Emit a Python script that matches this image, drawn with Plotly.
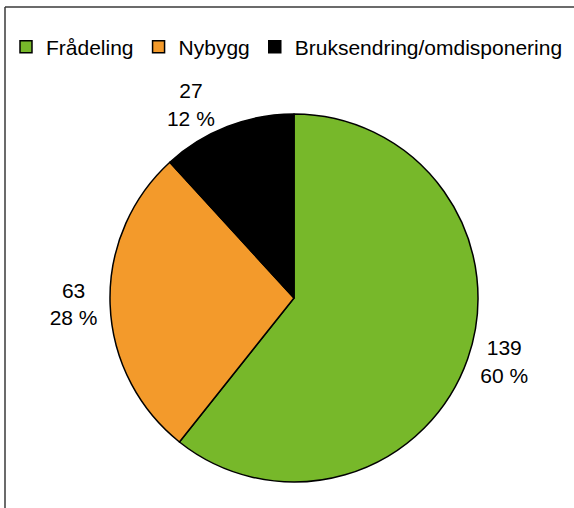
import plotly.graph_objects as go

categories = ["Frådeling", "Nybygg", "Bruksendring/omdisponering"]
values = [139, 63, 27]
pct_labels = [60, 28, 12]
colors = ["#77B82A", "#F39A2B", "#000000"]

W, H = 574, 508
cx, cy, r = 294, 298, 184
FONT = "Liberation Sans, Arial, sans-serif"

fig = go.Figure(go.Pie(
    labels=categories,
    values=values,
    customdata=pct_labels,
    sort=False,
    direction="clockwise",
    rotation=0,
    marker=dict(colors=colors, line=dict(color="#000000", width=1.5)),
    texttemplate="%{value}<br>%{customdata} %",
    textposition="outside",
    textfont=dict(family=FONT, size=21, color="#000000"),
    hoverinfo="label+value+percent",
    domain=dict(x=[(cx - r) / W, (cx + r) / W], y=[(H - cy - r) / H, (H - cy + r) / H]),
    automargin=False,
))

fig.update_layout(
    width=W, height=H,
    margin=dict(l=0, r=0, t=0, b=0),
    paper_bgcolor="white",
    font=dict(family=FONT, size=21, color="#000000"),
    showlegend=True,
    legend=dict(
        orientation="h",
        x=6 / W, xanchor="left",
        y=1 - 47 / H, yanchor="middle",
        font=dict(family=FONT, size=21),
        tracegroupgap=0,
        borderwidth=0,
        bgcolor="rgba(0,0,0,0)",
    ),
    shapes=[
        dict(type="line", xref="paper", yref="paper", x0=5 / W, x1=1.0, y0=1 - 7 / H, y1=1 - 7 / H,
             line=dict(color="#3a3a3a", width=1.5)),
        dict(type="line", xref="paper", yref="paper", x0=5 / W, x1=5 / W, y0=0, y1=1 - 7 / H,
             line=dict(color="#3a3a3a", width=1.5)),
    ],
)

fig.write_html("out.html", config={"displayModeBar": False},
               post_script="document.body.style.margin='0';")
